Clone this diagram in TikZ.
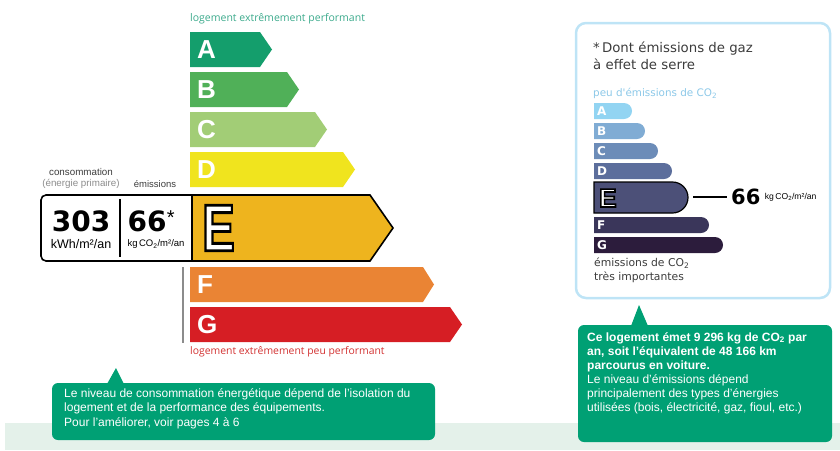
\documentclass[tikz,border=0pt]{standalone}
\usepackage{fontspec}
\setmainfont{Liberation Sans}
\newfontfamily\dejavu{DejaVu Sans}
\newfontfamily\opensans{Open Sans}
\usepackage{graphicx}
\newcommand{\outlinedE}[1]{\special{pdf:literal direct 2 Tr #1 w 0 0 0 RG 1 1 1 rg}E\special{pdf:literal direct 0 Tr}}
\definecolor{cA}{RGB}{20,158,108}
\definecolor{cB}{RGB}{80,176,88}
\definecolor{cC}{RGB}{162,205,118}
\definecolor{cD}{RGB}{240,228,30}
\definecolor{cE}{RGB}{238,180,30}
\definecolor{cF}{RGB}{234,132,52}
\definecolor{cG}{RGB}{214,30,36}
\definecolor{gA}{RGB}{146,212,242}
\definecolor{gB}{RGB}{128,172,212}
\definecolor{gC}{RGB}{108,140,184}
\definecolor{gD}{RGB}{92,110,156}
\definecolor{gE}{RGB}{76,80,120}
\definecolor{gF}{RGB}{58,54,90}
\definecolor{gG}{RGB}{44,28,60}
\definecolor{callg}{RGB}{0,160,116}
\definecolor{band}{RGB}{228,241,234}
\definecolor{panel}{RGB}{190,228,246}
\definecolor{tealt}{RGB}{60,170,140}
\definecolor{redt}{RGB}{210,50,50}
\definecolor{lblue}{RGB}{140,200,232}
\definecolor{greyt}{RGB}{140,140,140}
\definecolor{darkt}{RGB}{60,60,60}
\begin{document}
\begin{tikzpicture}[x=1pt,y=-1pt,
  bigletter/.style={anchor=west,text=white,font=\fontsize{26}{26}\selectfont\bfseries,inner sep=0pt},
  smallletter/.style={anchor=west,text=white,font=\dejavu\fontsize{12}{12}\selectfont\bfseries,inner sep=0pt},
  smalltxt/.style={anchor=west,inner sep=0pt},
  calltxt/.style={anchor=north west,text=white,align=left,inner sep=0pt}
]
\useasboundingbox (0,0) rectangle (840,450);
% bottom band
\fill[band] (5,423) rectangle (840,450);

% ---------- left label ----------
\node[smalltxt,text=tealt,font=\opensans\fontsize{10.5}{11}\selectfont] (top) at (190,19) {logement extrêmement performant};
\fill[cA] (190,32) -- (260,32) -- (272,49.5) -- (260,67) -- (190,67) -- cycle;
\fill[cB] (190,72) -- (287,72) -- (299,89.5) -- (287,107) -- (190,107) -- cycle;
\fill[cC] (190,112) -- (315,112) -- (327,129.5) -- (315,147) -- (190,147) -- cycle;
\fill[cD] (190,152) -- (343,152) -- (355,169.5) -- (343,187) -- (190,187) -- cycle;
\node[bigletter] (lA) at (197,50) {A};
\node[bigletter] (lB) at (197,90) {B};
\node[bigletter] (lC) at (197,130) {C};
\node[bigletter] (lD) at (197,170) {D};

% value box
\draw[line width=1.6pt,rounded corners=5pt,fill=white] (41,195) rectangle (200,261);
\fill[cE,draw=black,line width=1.6pt,line join=miter] (192,195) -- (370,195) -- (393,228) -- (370,261) -- (192,261) -- cycle;
\node[anchor=west,inner sep=0pt,text=white,font=\fontsize{66}{66}\selectfont\bfseries] (lE) at (202,228) {\scalebox{0.74}[1]{\outlinedE{2.8}}};
\draw[line width=1.5pt] (120,199) -- (120,257);
\node[font=\dejavu\fontsize{28}{28}\selectfont\bfseries,inner sep=0pt] (v303) at (81,221) {303};
\node[font=\fontsize{12.5}{13}\selectfont,inner sep=0pt] (u303) at (81,244) {kWh/m²/an};
\node[font=\dejavu\fontsize{28}{28}\selectfont\bfseries,inner sep=0pt] (v66l) at (147,221) {66};
\node[font=\fontsize{20}{20}\selectfont,inner sep=0pt,anchor=north west] (ast) at (v66l.north east) {*};
\node[font=\fontsize{9.5}{10}\selectfont,inner sep=0pt] (u66) at (156,244) {kg\,CO\textsubscript{2}/m²/an};
\node[font=\fontsize{9.8}{10}\selectfont,text=darkt,inner sep=0pt] (cons) at (81,172) {consommation};
\node[font=\fontsize{9.8}{10}\selectfont,text=greyt,inner sep=0pt] (ep) at (81,184) {(énergie primaire)};
\node[font=\fontsize{9.5}{10}\selectfont,text=darkt,inner sep=0pt] (emi) at (155,184) {émissions};

\fill[cF] (190,267) -- (423,267) -- (434,284.5) -- (423,302) -- (190,302) -- cycle;
\fill[cG] (190,307) -- (450,307) -- (462,324.5) -- (450,342) -- (190,342) -- cycle;
\node[bigletter] (lF) at (197,285) {F};
\node[bigletter] (lG) at (197,325) {G};
\draw[greyt,line width=1.6pt] (183,267) -- (183,343);
\node[smalltxt,text=redt,font=\opensans\fontsize{10.4}{11}\selectfont] (bot) at (190,352) {logement extrêmement peu performant};

% ---------- right panel ----------
\draw[panel,line width=2.5pt,rounded corners=10pt] (576,23) rectangle (830,298);
\node[smalltxt,font=\dejavu\fontsize{13.3}{14}\selectfont,text=darkt] (t1) at (593,49) {*\,Dont émissions de gaz};
\node[smalltxt,font=\dejavu\fontsize{13.3}{14}\selectfont,text=darkt] (t2) at (593,64) {à effet de serre};
\node[smalltxt,font=\dejavu\fontsize{10.4}{11}\selectfont,text=lblue] (peu) at (593,93) {peu d'émissions de CO\textsubscript{2}};
\fill[gA] (594,103) [rounded corners=8pt] -- (632,103) -- (632,119) [sharp corners] -- (594,119) -- cycle;
\fill[gB] (594,123) [rounded corners=8pt] -- (645,123) -- (645,139) [sharp corners] -- (594,139) -- cycle;
\fill[gC] (594,143) [rounded corners=8pt] -- (658,143) -- (658,159) [sharp corners] -- (594,159) -- cycle;
\fill[gD] (594,163) [rounded corners=8pt] -- (672,163) -- (672,179) [sharp corners] -- (594,179) -- cycle;
\filldraw[fill=gE,draw=black,line width=1.2pt] (594,182) [rounded corners=15.5pt] -- (688,182) -- (688,213) [sharp corners] -- (594,213) -- cycle;
\fill[gF] (594,217) [rounded corners=8pt] -- (709,217) -- (709,233) [sharp corners] -- (594,233) -- cycle;
\fill[gG] (594,237) [rounded corners=8pt] -- (723,237) -- (723,253) [sharp corners] -- (594,253) -- cycle;
\node[smallletter] (sA) at (597,111) {A};
\node[smallletter] (sB) at (597,131) {B};
\node[smallletter] (sC) at (597,151) {C};
\node[smallletter] (sD) at (597,171) {D};
\node[anchor=west,inner sep=0pt,text=white,font=\fontsize{26}{26}\selectfont\bfseries] (sE) at (599,198) {\outlinedE{1.6}};
\node[smallletter] (sF) at (597,225) {F};
\node[smallletter] (sG) at (597,245) {G};
\coordinate (eR) at (693,197);
\node[anchor=west,inner sep=0pt,font=\dejavu\fontsize{21}{21}\selectfont\bfseries] (v66r) at (731,197) {66};
\node[anchor=west,inner sep=0pt,font=\fontsize{8.6}{9}\selectfont] (u66r) at ([xshift=4pt]v66r.east) {kg\,CO\textsubscript{2}/m²/an};
\draw[line width=1.2pt] (eR) -- ([xshift=-4pt]v66r.west);
\node[smalltxt,font=\dejavu\fontsize{10.8}{11}\selectfont,text=darkt] (b1) at (594,263) {émissions de CO\textsubscript{2}};
\node[smalltxt,font=\dejavu\fontsize{10.8}{11}\selectfont,text=darkt] (b2) at (594,277) {très importantes};

% ---------- callouts ----------
\fill[callg,rounded corners=6pt] (52,383) rectangle (435,440);
\fill[callg] (107,384) -- (116,368) -- (124,384) -- cycle;
\node[calltxt,font=\fontsize{12}{14.6}\selectfont] (c1) at (64,388) {Le niveau de consommation énergétique dépend de l'isolation du\\logement et de la performance des équipements.\\Pour l'améliorer, voir pages 4 à 6};

\fill[callg,rounded corners=6pt] (578,325) rectangle (832,442);
\fill[callg] (631,326) -- (639,305) -- (648,326) -- cycle;
\node[calltxt,font=\fontsize{12}{14}\selectfont] (c2) at (587,332) {\textbf{Ce logement émet 9 296 kg de CO\textsubscript{2} par}\\\textbf{an, soit l'équivalent de 48 166 km}\\\textbf{parcourus en voiture.}\\Le niveau d'émissions dépend\\principalement des types d'énergies\\utilisées (bois, électricité, gaz, fioul, etc.)};
\end{tikzpicture}
\end{document}
